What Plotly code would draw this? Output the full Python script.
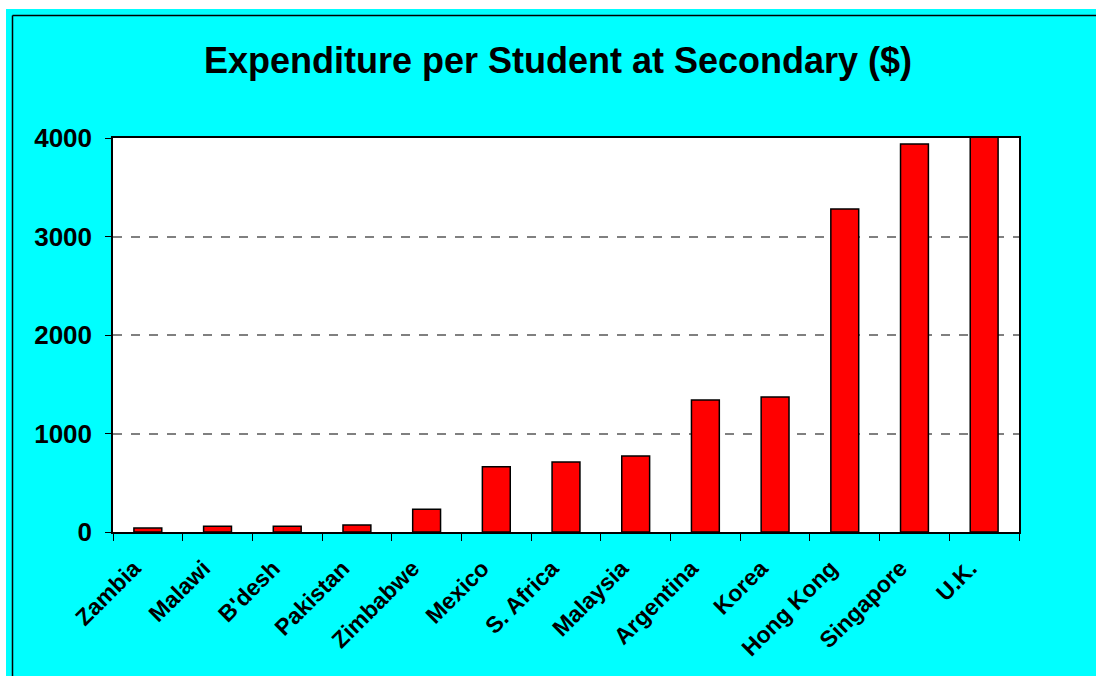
import plotly.graph_objects as go

countries = ["Zambia", "Malawi", "B'desh", "Pakistan", "Zimbabwe", "Mexico",
             "S. Africa", "Malaysia", "Argentina", "Korea", "Hong Kong",
             "Singapore", "U.K."]
spending = [40, 58, 58, 71, 230, 663, 710, 772, 1340, 1371, 3279, 3939, 4030]
y_ticks = [0, 1000, 2000, 3000, 4000]

W, H = 1096, 676
L, R, T, B = 113, 1019, 138, 532


def px_x(p):
    return (p - L) / (R - L)


def px_y(p):
    return (B - p) / (B - T)


fig = go.Figure()
fig.add_trace(go.Bar(
    x=countries,
    y=spending,
    marker=dict(color="#FF0000", line=dict(color="black", width=1.5)),
    cliponaxis=False,
    hoverinfo="x+y",
))

# outer white margin and black frame of the chart area
fig.add_shape(type="rect", xref="paper", yref="paper",
              x0=px_x(0), x1=px_x(6), y0=px_y(H), y1=px_y(0),
              fillcolor="white", line_width=0, layer="below")
fig.add_shape(type="rect", xref="paper", yref="paper",
              x0=px_x(0), x1=px_x(W), y0=px_y(9), y1=px_y(0),
              fillcolor="white", line_width=0, layer="below")
fig.add_shape(type="line", xref="paper", yref="paper",
              x0=px_x(12.5), x1=px_x(W), y0=px_y(15.5), y1=px_y(15.5),
              line=dict(color="black", width=1.5))
fig.add_shape(type="line", xref="paper", yref="paper",
              x0=px_x(12.5), x1=px_x(12.5), y0=px_y(15.5), y1=px_y(H),
              line=dict(color="black", width=1.5))

fig.update_layout(
    width=W, height=H,
    margin=dict(l=L, r=W - R, t=T, b=H - B, autoexpand=False),
    paper_bgcolor="#00FFFF",
    plot_bgcolor="white",
    bargap=0.6,
    showlegend=False,
    font=dict(family="Liberation Sans, Arial, sans-serif", color="black"),
    title=dict(
        text="<b>Expenditure per Student at Secondary ($)</b>",
        x=px_x(558), xref="paper", xanchor="center",
        y=1 - 60 / H, yanchor="middle",
        font=dict(size=36, color="black"),
    ),
)

fig.update_xaxes(
    tickangle=-45,
    tickfont=dict(size=23, color="black", weight="bold"),
    ticks="outside", tickson="boundaries", ticklen=7, tickcolor="black",
    ticklabelstandoff=12, ticklabelshift=-14,
    showline=True, linecolor="black", linewidth=1.5, mirror=True,
    showgrid=False,
)

fig.update_yaxes(
    range=[0, 4000],
    tickvals=y_ticks,
    tickfont=dict(size=26, color="black", weight="bold"),
    ticks="outside", ticklen=6, tickcolor="black",
    ticklabelstandoff=8,
    showline=True, linecolor="black", linewidth=1.5, mirror=True,
    showgrid=True, gridcolor="#808080", gridwidth=1.5, griddash="dash",
    zeroline=False,
)

# the page's default body margin would shift the figure
fig.write_html("out.html", config={"displayModeBar": False},
               post_script="document.body.style.margin = '0';")
